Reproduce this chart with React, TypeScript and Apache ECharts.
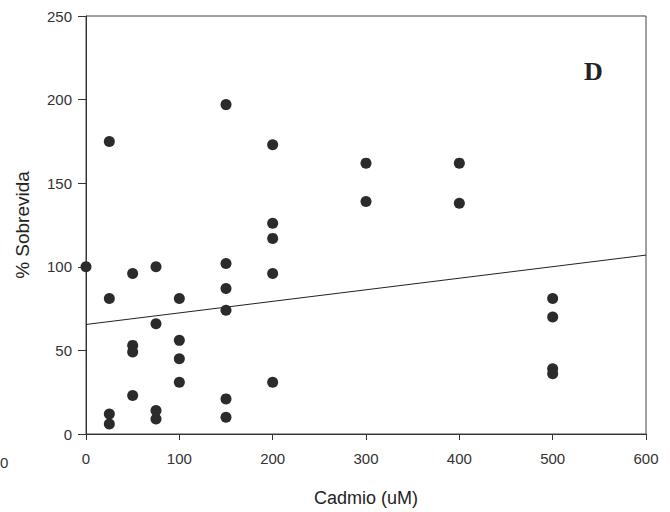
import React, { useEffect, useRef } from "react";
import * as echarts from "echarts";

// Cadmium concentration (uM) and % survival
const cadmioX: number[] = [
  0,
  25, 25, 25, 25,
  50, 50, 50, 50,
  75, 75, 75, 75,
  100, 100, 100, 100,
  150, 150, 150, 150, 150, 150,
  200, 200, 200, 200, 200,
  300, 300,
  400, 400,
  500, 500, 500, 500,
];
const sobrevidaY: number[] = [
  100,
  175, 81, 12, 6,
  96, 53, 49, 23,
  100, 66, 14, 9,
  81, 56, 45, 31,
  197, 102, 87, 74, 21, 10,
  173, 126, 117, 96, 31,
  162, 139,
  162, 138,
  81, 70, 39, 36,
];

// Linear regression line: endpoints at x = 0 and x = 600
const fitX: number[] = [0, 600];
const fitY: number[] = [65.5, 107];

const xTicks = { min: 0, max: 600, interval: 100 };
const yTicks = { min: 0, max: 250, interval: 50 };

export default function App() {
  const ref = useRef<HTMLDivElement>(null);
  useEffect(() => {
    if (!ref.current) return;
    const chart = echarts.init(ref.current, undefined, { renderer: "svg" });
    const points = cadmioX.map((x, i) => [x, sobrevidaY[i]]);
    const fit = fitX.map((x, i) => [x, fitY[i]]);
    const textColor = "#333";
    chart.setOption({
      animation: false,
      backgroundColor: "#ffffff",
      grid: {
        left: 86,
        right: 24,
        top: 16,
        bottom: 71,
        show: true,
        borderColor: "#444",
        borderWidth: 1,
        backgroundColor: "transparent",
      },
      xAxis: {
        type: "value",
        min: xTicks.min,
        max: xTicks.max,
        interval: xTicks.interval,
        name: "Cadmio (uM)",
        nameLocation: "middle",
        nameGap: 55,
        nameTextStyle: { fontFamily: "Liberation Sans", fontSize: 18, color: "#222" },
        axisLine: { show: true, lineStyle: { color: "#333", width: 1 } },
        axisTick: { show: true, length: 6, lineStyle: { color: "#333" } },
        axisLabel: { fontFamily: "Liberation Sans", fontSize: 15, color: textColor, margin: 17 },
        splitLine: { show: false },
      },
      yAxis: {
        type: "value",
        min: yTicks.min,
        max: yTicks.max,
        interval: yTicks.interval,
        name: "% Sobrevida",
        nameLocation: "middle",
        nameGap: 54,
        nameTextStyle: { fontFamily: "Liberation Sans", fontSize: 19, color: "#222" },
        axisLine: { show: true, lineStyle: { color: "#333", width: 1 } },
        axisTick: { show: true, length: 8, lineStyle: { color: "#333" } },
        axisLabel: { fontFamily: "Liberation Sans", fontSize: 15, color: textColor, margin: 14 },
        splitLine: { show: false },
      },
      series: [
        {
          type: "scatter",
          data: points,
          symbol: "circle",
          symbolSize: 11,
          itemStyle: { color: "#2b2b2b", opacity: 1 },
          z: 3,
        },
        {
          type: "line",
          data: fit,
          symbol: "none",
          lineStyle: { color: "#222", width: 1 },
          z: 2,
        },
      ],
      graphic: [
        {
          type: "text",
          left: 584,
          top: 58,
          style: {
            text: "D",
            fontFamily: "Liberation Serif",
            fontWeight: "bold",
            fontSize: 26,
            fill: "#222",
          },
        },
        {
          type: "text",
          left: 0,
          top: 455,
          style: {
            text: "0",
            fontFamily: "Liberation Sans",
            fontSize: 15,
            fill: textColor,
          },
        },
      ],
    });
    return () => chart.dispose();
  }, []);
  return (
    <div
      ref={ref}
      style={{ position: "fixed", left: 0, top: 0, width: 670, height: 512 }}
    />
  );
}
